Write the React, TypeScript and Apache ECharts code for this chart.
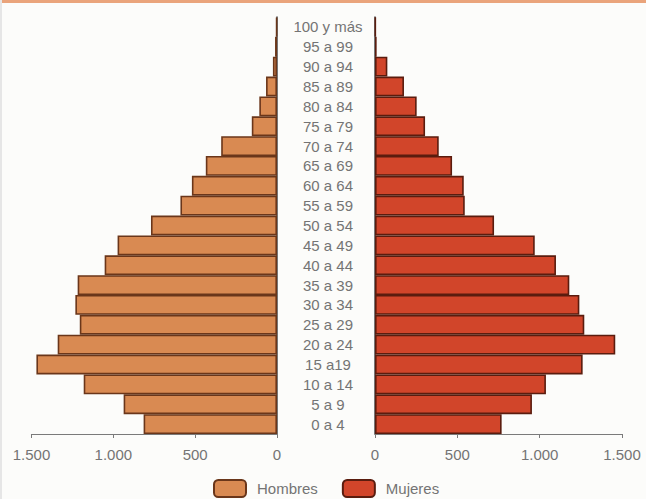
import React, { useEffect, useRef } from "react";
import * as echarts from "echarts";

const ageGroups = [
  "0 a 4", "5 a 9", "10 a 14", "15 a19", "20 a 24", "25 a 29", "30 a 34",
  "35 a 39", "40 a 44", "45 a 49", "50 a 54", "55 a 59", "60 a 64", "65 a 69",
  "70 a 74", "75 a 79", "80 a 84", "85 a 89", "90 a 94", "95 a 99", "100 y más",
];
const hombres = [815, 937, 1181, 1470, 1340, 1205, 1232, 1218, 1053, 974, 770, 590, 520, 435, 341, 154, 108, 67, 25, 12, 5];
const mujeres = [769, 953, 1038, 1261, 1459, 1271, 1241, 1180, 1099, 970, 723, 545, 539, 468, 387, 304, 253, 176, 75, 10, 4];
const xTicks = [0, 500, 1000, 1500];

const FONT = "'Liberation Sans', Arial, sans-serif";
const TXT = "#747474";
const C_H = "#d98a52";
const C_M = "#d1452a";
const B_H = "#6a361a";
const B_M = "#5a1c0e";

const fmt = (v: number) => String(v).replace(/\B(?=(\d{3})+(?!\d))/g, ".");

export default function App() {
  const ref = useRef<HTMLDivElement>(null);
  useEffect(() => {
    if (!ref.current) return;
    const chart = echarts.init(ref.current, undefined, { renderer: "svg" });
    const xCommon = {
      type: "value" as const,
      min: xTicks[0],
      max: xTicks[xTicks.length - 1],
      interval: 500,
      splitLine: { show: false },
      axisLine: { show: true, lineStyle: { color: "#7a7a7a", width: 1.2 } },
      axisTick: { show: true, length: 4, lineStyle: { color: "#7a7a7a" } },
      axisLabel: { color: TXT, fontFamily: FONT, fontSize: 15, margin: 13, formatter: (v: number) => fmt(v) },
    };
    chart.setOption({
      animation: false,
      backgroundColor: "#fcfcfa",
      textStyle: { fontFamily: FONT },
      graphic: [
        { type: "rect", shape: { x: 0, y: 0, width: 646, height: 3 }, style: { fill: "#eaa47b" } },
        { type: "rect", shape: { x: 0, y: 0, width: 2, height: 499 }, style: { fill: "#e6e6e6" } },
      ],
      legend: {
        left: 213,
        top: 479,
        padding: 0,
        itemWidth: 32,
        itemHeight: 17,
        itemGap: 24,
        textStyle: { color: TXT, fontFamily: FONT, fontSize: 15, padding: [0, 0, 0, 6] },
        data: ["Hombres", "Mujeres"],
      },
      grid: [
        { left: 31.5, right: 369, top: 17, bottom: 65 },
        { left: 375, right: 24, top: 17, bottom: 65 },
      ],
      xAxis: [
        { ...xCommon, gridIndex: 0, inverse: true },
        { ...xCommon, gridIndex: 1 },
      ],
      yAxis: [
        {
          type: "category",
          gridIndex: 0,
          position: "right",
          data: ageGroups,
          axisLine: { show: true, onZero: false, lineStyle: { color: "#4a4a4a", width: 1.5 } },
          axisTick: { show: false },
          axisLabel: { show: false },
        },
        {
          type: "category",
          gridIndex: 1,
          position: "left",
          data: ageGroups,
          axisLine: { show: true, onZero: false, lineStyle: { color: "#4a4a4a", width: 1.5 } },
          axisTick: { show: false },
          axisLabel: {
            show: true,
            interval: 0,
            color: TXT,
            fontFamily: FONT,
            fontSize: 15,
            align: "center",
            margin: 47,
            padding: [12, 0, 0, 0],
          },
        },
      ],
      series: [
        {
          name: "Hombres",
          type: "bar",
          xAxisIndex: 0,
          yAxisIndex: 0,
          data: hombres,
          barWidth: "100%",
          barCategoryGap: "0%",
          itemStyle: { color: C_H, borderColor: B_H, borderWidth: 1.6 },
        },
        {
          name: "Mujeres",
          type: "bar",
          xAxisIndex: 1,
          yAxisIndex: 1,
          data: mujeres,
          barWidth: "100%",
          barCategoryGap: "0%",
          itemStyle: { color: C_M, borderColor: B_M, borderWidth: 1.6 },
        },
      ],
    });
    return () => chart.dispose();
  }, []);
  return <div ref={ref} style={{ position: "fixed", left: 0, top: 0, width: 646, height: 499 }} />;
}
